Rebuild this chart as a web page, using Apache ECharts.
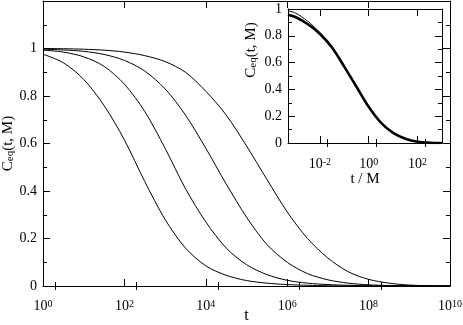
<!DOCTYPE html>
<html>
<head>
<meta charset="utf-8">
<style>
 html, body{
 	margin: 0;
 	padding: 0;
 	background: #fff;
 }
</style>
</head>
<body>
<div id="chart" style="width:463px; height: 325px;"></div>
<script src="https://cdn.jsdelivr.net/npm/echarts@6/dist/echarts.min.js" type="text/javascript" charset="utf-8"></script>
<script type="text/javascript">
	// x values are log10(t)
	var logT = [0, 0.5, 1, 1.5, 2, 2.5, 3, 3.5, 4, 4.5, 5, 5.5, 6, 6.5, 7, 7.5, 8, 8.5, 9, 9.5, 10];
	var curveA = [0.976, 0.94, 0.87, 0.76, 0.615, 0.44, 0.28, 0.16, 0.085, 0.045, 0.023, 0.012, 0.006, 0.003, 0.001, 0, 0, 0, 0, 0, 0];
	var curveB = [0.993, 0.985, 0.965, 0.925, 0.85, 0.735, 0.58, 0.41, 0.27, 0.16, 0.09, 0.048, 0.024, 0.012, 0.006, 0.003, 0.001, 0, 0, 0, 0];
	var curveC = [0.997, 0.994, 0.988, 0.975, 0.95, 0.905, 0.83, 0.72, 0.58, 0.43, 0.29, 0.175, 0.1, 0.052, 0.026, 0.012, 0.005, 0.002, 0.001, 0, 0];
	var curveD = [1.0, 0.999, 0.997, 0.993, 0.985, 0.97, 0.945, 0.9, 0.82, 0.72, 0.59, 0.449, 0.312, 0.2, 0.118, 0.06, 0.028, 0.012, 0.004, 0.001, 0];

	// inset: log10(t / M)
	var insetLogT = [-3.301, -3, -2.5, -2, -1.5, -1, -0.5, 0, 0.5, 1, 1.5, 2, 2.5, 3];
	var insetUpper = [0.987, 0.97, 0.91, 0.825, 0.718, 0.57, 0.42, 0.27, 0.152, 0.075, 0.032, 0.009, 0.002, 0];
	var insetCollapsed = [0.957, 0.94, 0.888, 0.815, 0.712, 0.57, 0.42, 0.27, 0.152, 0.075, 0.032, 0.009, 0.002, 0];

	var mainMajor = [0, 2, 4, 6, 8, 10];
	var mainMinor = [0.301, 2.301, 4.301, 6.301, 8.301];
	var insetMajor = [-2, 0, 2];
	var insetMinor = [-1.699, 0.301, 2.301];
	var mainYLabels = [0, 0.2, 0.4, 0.6, 0.8, 1];

	var font = 'Liberation Serif';
	var yName = '{c|C}{sub|eq}{c|(t, M)}';

	function pairs(xs, ys) {
		var out = [];
		for (var i = 0; i < xs.length; i++) out.push([xs[i], ys[i]]);
		return out;
	}

	function powLabel(v) {
		return '{b|10}{s|' + Math.round(v) + '}';
	}

	function xAx(grid, pos, min, max, ticks, len, opts) {
		var a = {
			type: 'value', gridIndex: grid, position: pos, min: min, max: max,
			nameMoveOverlap: false,
			axisLine: {show: true, onZero: false, lineStyle: {color: '#000', width: 1}},
			axisTick: {show: true, inside: true, length: len, customValues: ticks, lineStyle: {color: '#000'}},
			axisLabel: {show: false},
			splitLine: {show: false},
			z: grid == 1 ? 6 : 0
		};
		for (var k in opts) a[k] = opts[k];
		return a;
	}

	function yAx(grid, pos, max, opts) {
		var a = {
			type: 'value', gridIndex: grid, position: pos, min: 0, max: max, interval: 0.2,
			nameMoveOverlap: false,
			axisLine: {show: true, onZero: false, lineStyle: {color: '#000', width: 1}},
			axisTick: {show: true, inside: true, length: 7, lineStyle: {color: '#000'}},
			minorTick: {show: true, splitNumber: 2, length: 4, lineStyle: {color: '#000'}},
			axisLabel: {show: false},
			splitLine: {show: false},
			minorSplitLine: {show: false},
			z: grid == 1 ? 6 : 0
		};
		for (var k in opts) a[k] = opts[k];
		return a;
	}

	var powRich = {
		b: {fontFamily: font, fontSize: 14, lineHeight: 14, verticalAlign: 'bottom', color: '#000'},
		s: {fontFamily: font, fontSize: 10, lineHeight: 10, verticalAlign: 'top', padding: [0, 0, 8, 0], color: '#000'}
	};
	var subRich = {
		c: {fontFamily: font, fontSize: 15, lineHeight: 15, verticalAlign: 'top', color: '#000'},
		sub: {fontFamily: font, fontSize: 11, lineHeight: 11, verticalAlign: 'bottom', padding: [8, 0, 0, 0], color: '#000'}
	};

	var options = {
		animation: false,
		backgroundColor: '#fff',
		grid: [
			{left: 43, right: 13, top: 1, bottom: 39, outerBoundsMode: 'none'},
			{left: 288, right: 21, top: 9, bottom: 182, outerBoundsMode: 'none', show: true, backgroundColor: '#fff', borderWidth: 0, z: 4}
		],
		xAxis: [
			xAx(0, 'bottom', 0, 10, mainMajor, 7, {
				name: 't', nameLocation: 'middle', nameGap: 22,
				nameTextStyle: {fontFamily: font, fontSize: 16, color: '#000'},
				axisLabel: {show: true, margin: 13, customValues: mainMajor, formatter: powLabel, rich: powRich}
			}),
			xAx(0, 'bottom', 0, 10, mainMinor, 4, {axisLine: {show: false}}),
			xAx(0, 'top', 0, 10, mainMajor, 7, {}),
			xAx(0, 'top', 0, 10, mainMinor, 4, {axisLine: {show: false}}),
			xAx(1, 'bottom', -3.301, 3, insetMajor, 7, {
				name: 't / M', nameLocation: 'middle', nameGap: 29,
				nameTextStyle: {fontFamily: font, fontSize: 15, color: '#000'},
				axisLabel: {show: true, margin: 14, customValues: insetMajor, formatter: powLabel, rich: powRich}
			}),
			xAx(1, 'bottom', -3.301, 3, insetMinor, 4, {axisLine: {show: false}}),
			xAx(1, 'top', -3.301, 3, insetMajor, 7, {}),
			xAx(1, 'top', -3.301, 3, insetMinor, 4, {axisLine: {show: false}})
		],
		yAxis: [
			yAx(0, 'left', 1.2, {
				name: yName, nameLocation: 'middle', nameGap: 27,
				nameTextStyle: {rich: subRich},
				axisLabel: {show: true, margin: 6, customValues: mainYLabels, fontFamily: font, fontSize: 14, color: '#000'}
			}),
			yAx(0, 'right', 1.2, {}),
			yAx(1, 'left', 1, {
				axisLabel: {show: true, margin: 6, fontFamily: font, fontSize: 14, color: '#000'}
			}),
			yAx(1, 'right', 1, {})
		],
		// inset y title sits above the middle of its axis
		graphic: [{
			type: 'text', x: 251, y: 50, rotation: Math.PI / 2, z: 10,
			style: {text: yName, rich: subRich, align: 'center', verticalAlign: 'middle'}
		}],
		series: [
			{type: 'line', xAxisIndex: 0, yAxisIndex: 0, data: pairs(logT, curveA)},
			{type: 'line', xAxisIndex: 0, yAxisIndex: 0, data: pairs(logT, curveB)},
			{type: 'line', xAxisIndex: 0, yAxisIndex: 0, data: pairs(logT, curveC)},
			{type: 'line', xAxisIndex: 0, yAxisIndex: 0, data: pairs(logT, curveD)},
			{type: 'line', xAxisIndex: 4, yAxisIndex: 2, z: 7, data: pairs(insetLogT, insetUpper), lineStyle: {width: 1}},
			{type: 'line', xAxisIndex: 4, yAxisIndex: 2, z: 7, data: pairs(insetLogT, insetCollapsed), lineStyle: {width: 2.6}}
		]
	};
	options.series.forEach(function (s) {
		s.smooth = 0.3;
		s.symbol = 'none';
		s.lineStyle = s.lineStyle || {width: 1};
		s.lineStyle.color = '#000';
		s.itemStyle = {color: '#000'};
	});

	var myChart = echarts.init(document.getElementById('chart'));
	myChart.setOption(options);
</script>
</body>
</html>
